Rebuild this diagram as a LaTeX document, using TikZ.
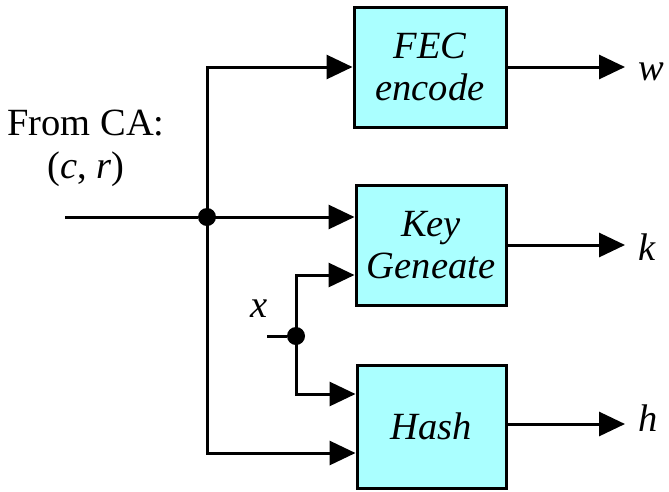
\documentclass[tikz,border=0pt]{standalone}
\usepackage{fontspec}
\setmainfont{Liberation Serif}
\usetikzlibrary{arrows.meta,calc}
\definecolor{boxcyan}{RGB}{170,255,255}
\begin{document}
\begin{tikzpicture}[x=1pt,y=-1pt,
  blk/.style={draw,line width=3pt,fill=boxcyan,inner sep=0pt,align=center,
    font=\fontsize{38.5}{42}\selectfont\itshape},
  wire/.style={line width=3pt},
  arr/.style={wire,-{Triangle[length=26pt,width=24pt]}},
  lbl/.style={font=\fontsize{38.5}{43}\selectfont,inner sep=0pt},
  dot/.style={circle,fill=black,inner sep=0pt,minimum size=18pt}]
\useasboundingbox (0,0) rectangle (669,491);
% boxes
\node[blk,minimum width=152pt,minimum height=120pt] (fec) at (430,67) {FEC\\encode};
\node[blk,minimum width=150pt,minimum height=120pt] (key) at (431,245) {Key\\Geneate};
\node[blk,minimum width=149pt,minimum height=123pt] (hash) at (431.5,426.5) {Hash};
% input
\node[lbl,align=center] (ca) at (86,148) {From CA:\\(\textit{c}, \textit{r})};
\coordinate (in) at (65,217);
\node[dot] (d1) at (207,217) {};
\draw[wire] (in) -- (d1);
\draw[arr] (d1.center) -- (key.west |- d1);
\draw[arr] (d1.center) |- (fec.west);
\draw[arr] (d1.center) |- ($(hash.west)+(0,26.5)$);
% x input
\node[lbl,anchor=base] (xl) at (259,317) {\textit{x}};
\coordinate (xs) at (267,336);
\node[dot] (d2) at (296,336) {};
\draw[wire] (xs) -- (d2);
\draw[arr] (d2.center) |- ($(key.west)+(0,30)$);
\draw[arr] (d2.center) |- ($(hash.west)+(0,-32.5)$);
% outputs
\node[lbl,anchor=base west] (w) at (638,80) {\textit{w}};
\node[lbl,anchor=base west] (k) at (638,260) {\textit{k}};
\node[lbl,anchor=base west] (h) at (638,431) {\textit{h}};
\coordinate (we) at (625,67);
\coordinate (ke) at (625,245);
\coordinate (he) at (625,424);
\draw[arr] (fec.east) -- (we);
\draw[arr] (key.east) -- (ke);
\draw[arr] (hash.east |- he) -- (he);
\end{tikzpicture}
\end{document}
